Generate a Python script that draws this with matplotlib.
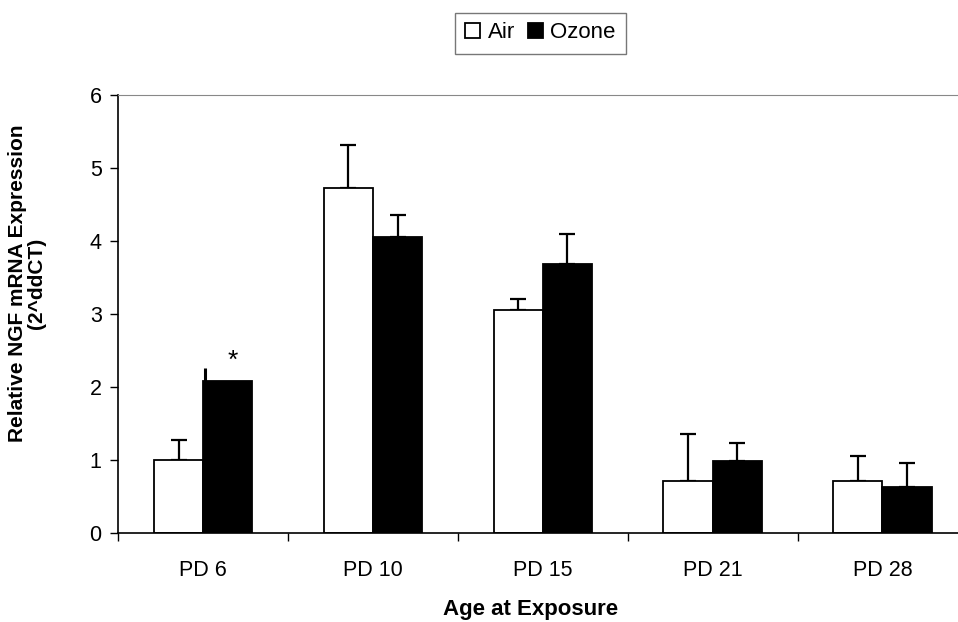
import numpy as np
import matplotlib
matplotlib.use('Agg')
import matplotlib.pyplot as plt

plt.rcParams['font.family'] = ['Liberation Sans', 'DejaVu Sans']

categories = ['PD 6', 'PD 10', 'PD 15', 'PD 21', 'PD 28']
air = [1.00, 4.72, 3.06, 0.72, 0.72]
air_err = [0.27, 0.59, 0.15, 0.64, 0.34]
ozone = [2.08, 4.06, 3.69, 0.99, 0.64]
ozone_err = [0.18, 0.29, 0.41, 0.24, 0.32]
signif = ['*', '', '', '', '']

fig = plt.figure(figsize=(9.58, 6.22), dpi=100)
ax = fig.add_axes([0.1235, 0.1426, 0.8765, 0.7051])

x = np.arange(len(categories))
w = 0.29
b_air = ax.bar(x - w / 2, air, w, color='white', edgecolor='black', linewidth=1.3, label='Air', zorder=2)
b_oz = ax.bar(x + w / 2, ozone, w, color='black', edgecolor='black', linewidth=1.3, label='Ozone', zorder=2)

ekw = dict(fmt='none', ecolor='black', elinewidth=1.6, capsize=5.6, capthick=1.6, zorder=1)
ax.errorbar(x - w / 2, air, yerr=[np.zeros(len(air)), air_err], **ekw)
# first ozone error bar sits on the bar's left edge without a cap in the original
ax.errorbar(x[1:] + w / 2, ozone[1:], yerr=[np.zeros(len(ozone) - 1), ozone_err[1:]], **ekw)
left0 = b_oz[0].get_x()
ax.vlines(left0 + 0.008, ozone[0], ozone[0] + ozone_err[0], color='black', linewidth=2.2, zorder=3)

for i, s in enumerate(signif):
    if s:
        ax.text(x[i] + w / 2 + 0.03, ozone[i] + ozone_err[i] + 0.1, s, ha='center', va='center', fontsize=19)

ax.set_ylim(0, 6)
ax.set_xlim(-0.5, 4.445)
ax.set_yticks(range(0, 7))
ax.tick_params(axis='y', direction='out', length=6, width=1, labelsize=15.5, pad=6)

ax.set_xticks(np.arange(-0.5, 4.0, 1.0))
ax.set_xticklabels([])
ax.set_xticks(x, minor=True)
ax.set_xticklabels(categories, minor=True)
ax.tick_params(axis='x', which='major', direction='out', length=6, width=1)
ax.tick_params(axis='x', which='minor', length=0, labelsize=15.5, pad=19)

ax.spines['right'].set_visible(False)
ax.spines['top'].set_color('#888888')
ax.spines['left'].set_linewidth(1.2)
ax.spines['bottom'].set_linewidth(1.2)

fig.text(27 / 958, 1 - 283 / 622, 'Relative NGF mRNA Expression\n(2^ddCT)', rotation=90,
         ha='center', va='center', multialignment='center', fontsize=15, fontweight='bold',
         linespacing=1.05)
fig.text(531 / 958, 1 - 610 / 622, 'Age at Exposure', ha='center', va='center',
         fontsize=16, fontweight='bold')

leg = fig.legend(handles=[b_air, b_oz], labels=['Air', 'Ozone'], loc='center', ncol=2,
                 bbox_to_anchor=(540.5 / 958, 1 - 33 / 622), fontsize=16, frameon=True,
                 fancybox=False, edgecolor='#555555', handlelength=0.65, handleheight=0.65,
                 handletextpad=0.35, columnspacing=0.6, borderpad=0.45)
leg.get_frame().set_linewidth(1.0)

fig.savefig('out.png', dpi=100)
